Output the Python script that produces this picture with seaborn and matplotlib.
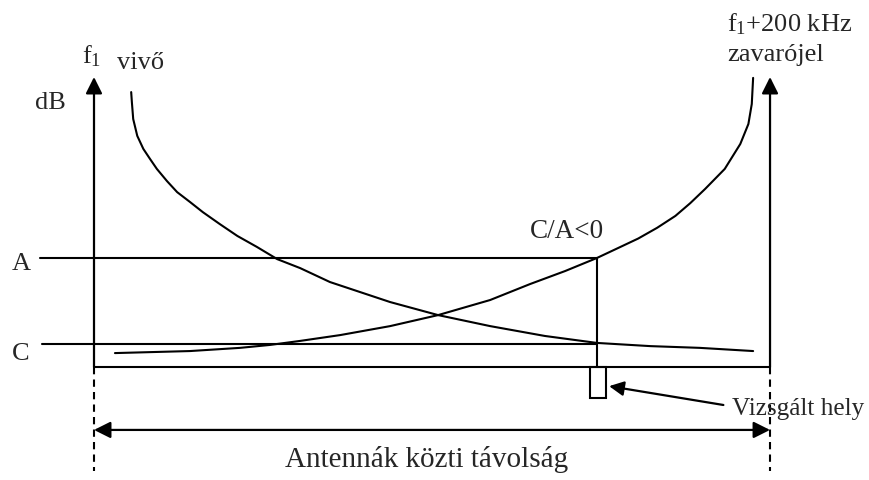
"""C/A measurement sketch: carrier and interferer level versus antenna distance."""

import matplotlib

matplotlib.use("Agg")
import matplotlib.pyplot as plt
import pandas as pd
import seaborn as sns
from matplotlib.patches import Rectangle

# distance between the antennas (0 = f1 antenna, 10 = f1+200 kHz antenna), level in dB
carrier_x = [0.55, 0.56, 0.58, 0.64, 0.73, 0.83, 0.93, 1.08, 1.23, 1.42, 1.61,
             1.86, 2.12, 2.41, 2.71, 3.05, 3.49, 4.38, 5.09, 5.86, 6.67, 7.44,
             8.23, 8.96, 9.75]
carrier_db = [9.48, 9.14, 8.55, 7.97, 7.52, 7.17, 6.83, 6.41, 6.03, 5.69, 5.34,
              4.93, 4.52, 4.14, 3.72, 3.41, 2.93, 2.24, 1.79, 1.41, 1.07, 0.83,
              0.72, 0.66, 0.55]
interferer_x = [0.31, 1.42, 2.16, 2.60, 3.05, 3.64, 4.38, 5.09, 5.86, 6.45,
                6.97, 7.44, 7.75, 8.05, 8.33, 8.60, 8.82, 9.04, 9.33, 9.56,
                9.68, 9.73, 9.75]
interferer_db = [0.48, 0.55, 0.66, 0.76, 0.90, 1.10, 1.41, 1.79, 2.31, 2.86,
                 3.31, 3.76, 4.10, 4.43, 4.80, 5.21, 5.65, 6.14, 6.83, 7.69,
                 8.38, 9.07, 9.97]

a_level = 3.76
c_level = 0.79
site_x = 7.44

sns.set_theme(style="white")
plt.rcParams["font.family"] = ["Liberation Serif", "DejaVu Serif"]
plt.rcParams["mathtext.fontset"] = "custom"
plt.rcParams["mathtext.rm"] = "Liberation Serif"
plt.rcParams["mathtext.it"] = "Liberation Serif:italic"

fig = plt.figure(figsize=(8.69, 4.81), dpi=100)
ax = fig.add_axes([0, 0, 1, 1])
ax.set_xlim(-1.3905, 11.464)
ax.set_ylim(-3.8966, 12.69)
ax.axis("off")

line_kw = dict(color="black", lw=1.5)
fs = 19

carrier = pd.DataFrame({"x": carrier_x, "db": carrier_db})
interferer = pd.DataFrame({"x": interferer_x, "db": interferer_db})
for df in (carrier, interferer):
    sns.lineplot(data=df, x="x", y="db", sort=False, estimator=None, ax=ax,
                 solid_joinstyle="round", **line_kw)

arrow = dict(arrowstyle="-|>", color="black", lw=1.6, mutation_scale=25,
             shrinkA=0, shrinkB=0)
for xa in (0, 10):
    ax.annotate("", xy=(xa, 10.0), xytext=(xa, 0), arrowprops=arrow)
    ax.plot([xa, xa], [0, -3.59], color="black", lw=1.5, ls=(0, (3.5, 2.5)))
ax.plot([0, 10], [0, 0], **line_kw)

# A and C levels at the examined site
ax.plot([-0.80, site_x], [a_level, a_level], **line_kw)
ax.plot([-0.77, site_x], [c_level, c_level], **line_kw)
ax.plot([site_x, site_x], [0, a_level], **line_kw)
ax.add_patch(Rectangle((site_x - 0.11, -1.07), 0.25, 1.07, fill=False,
                       edgecolor="black", lw=1.5))
ax.annotate("", xy=(7.62, -0.66), xytext=(9.31, -1.31),
            arrowprops=dict(arrow, mutation_scale=22))

double = dict(arrow, arrowstyle="<|-|>")
ax.annotate("", xy=(10, -2.17), xytext=(0, -2.17), arrowprops=double)

ax.text(-0.18, 10.52, r"f$_\mathrm{1}$", fontsize=fs, va="baseline")
ax.text(0.34, 10.31, "vivő", fontsize=fs, va="baseline")
ax.text(-0.87, 8.93, "dB", fontsize=fs, va="baseline")
ax.text(9.36, 11.59, r"f$_\mathrm{1}$+200 kHz", fontsize=fs, va="baseline")
ax.text(9.36, 10.59, "zavarójel", fontsize=fs, va="baseline")
ax.text(-1.21, 3.38, "A", fontsize=fs, va="baseline")
ax.text(-1.21, 0.28, "C", fontsize=fs, va="baseline")
ax.text(6.45, 4.48, "C/A<0", fontsize=fs + 0.5, va="baseline")
ax.text(9.44, -1.62, "Vizsgált hely", fontsize=18.2, va="baseline")
ax.text(2.83, -3.41, "Antennák közti távolság", fontsize=21, va="baseline")

fig.savefig("out.png", dpi=100)
